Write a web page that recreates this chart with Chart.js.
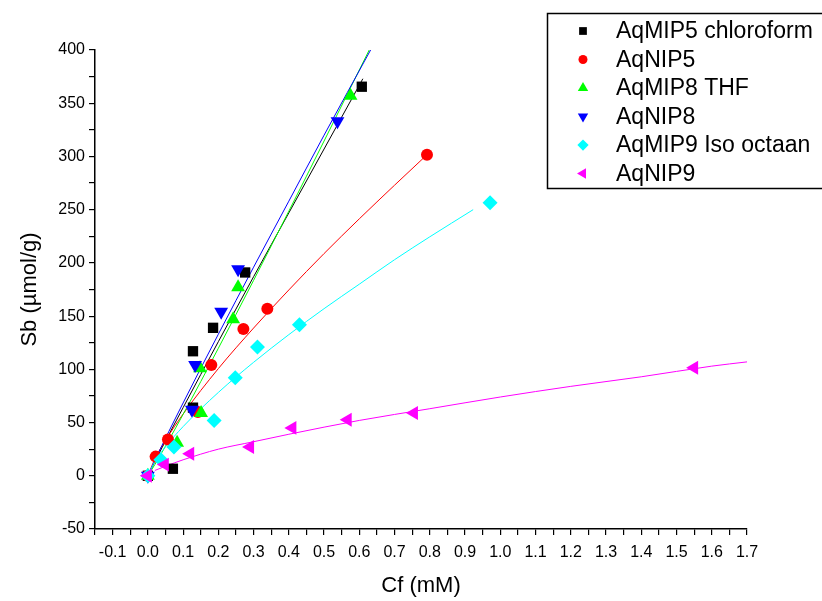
<!DOCTYPE html>
<html>
<head>
<meta charset="utf-8">
<script src="https://cdn.jsdelivr.net/npm/chart.js@4.4.0/dist/chart.umd.min.js"></script>
<style>
  html, body { margin: 0; padding: 0; background: #fff; }
</style>
</head>
<body>
<canvas id="iso" width="822" height="601"></canvas>
<script>
// series names, colours and marker shapes
const names = ['AqMIP5 chloroform', 'AqNIP5', 'AqMIP8 THF', 'AqNIP8', 'AqMIP9 Iso octaan', 'AqNIP9'];
const colors = ['#000000', '#ff0000', '#00ff00', '#0000ff', '#00ffff', '#ff00ff'];
const shapes = ['rect', 'circle', 'triangle', 'triangle', 'rectRot', 'triangle'];
const turns = [0, 0, 0, 180, 0, -90];
const sizes = [7.3, 6, 8, 8, 7.5, 8];

// measured points: Cf (mM) vs Sb (µmol/g)
const mip5X = [0, 0.071, 0.128, 0.128, 0.185, 0.276, 0.607];
const mip5Y = [0, 6.6, 64, 117, 139, 191, 365.5];
const nip5X = [0, 0.022, 0.057, 0.142, 0.18, 0.271, 0.339, 0.792];
const nip5Y = [0, 18, 34, 60, 104, 138, 157, 301.6];
const mip8X = [0, 0.083, 0.151, 0.148, 0.242, 0.256, 0.575];
const mip8Y = [0, 31, 59, 101, 147, 177, 357];
const nip8X = [0, 0.125, 0.134, 0.208, 0.256, 0.538];
const nip8Y = [0, 62, 104, 154, 194, 333];
const mip9X = [0, 0.037, 0.074, 0.188, 0.248, 0.311, 0.43, 0.971];
const mip9Y = [0, 15, 27, 52, 92, 121, 142, 256.6];
const nip9X = [0, 0.048, 0.12, 0.29, 0.41, 0.567, 0.755, 1.55];
const nip9Y = [0, 10.5, 20.7, 27, 45, 52.6, 59, 101.5];

// fitted isotherm curves
const mip5FitX = [0, 0.02, 0.1, 0.2, 0.3, 0.4, 0.5, 0.61];
const mip5FitY = [0, 13.4, 64, 126, 187, 247, 307, 373];
const nip5FitX = [0, 0.02, 0.05, 0.1, 0.2, 0.3, 0.4, 0.5, 0.6, 0.7, 0.792];
const nip5FitY = [0, 15.9, 33.2, 58, 100.7, 138.8, 174.6, 208.8, 241.4, 273, 301.6];
const mip8FitX = [0, 0.02, 0.1, 0.2, 0.3, 0.4, 0.5, 0.628];
const mip8FitY = [0, 10.6, 57.7, 119.8, 183.6, 248.6, 314.5, 400];
const nip8FitX = [0, 0.02, 0.1, 0.2, 0.3, 0.4, 0.5, 0.632];
const nip8FitY = [0, 14.6, 68.4, 133, 196, 258, 320, 400];
const mip9FitX = [0, 0.02, 0.05, 0.1, 0.2, 0.3, 0.4, 0.5, 0.6, 0.7, 0.8, 0.923];
const mip9FitY = [0, 13.6, 27.2, 46.2, 78.3, 106.6, 132.6, 157, 180, 203, 224.5, 250];
const nip9FitX = [0.02, 0.05, 0.1, 0.2, 0.3, 0.4, 0.6, 0.8, 1.0, 1.2, 1.4, 1.6, 1.7];
const nip9FitY = [5, 9, 15, 25, 32, 39, 52, 63, 74, 84, 93, 103, 107];

const pointsX = [mip5X, nip5X, mip8X, nip8X, mip9X, nip9X];
const pointsY = [mip5Y, nip5Y, mip8Y, nip8Y, mip9Y, nip9Y];
const fitsX = [mip5FitX, nip5FitX, mip8FitX, nip8FitX, mip9FitX, nip9FitX];
const fitsY = [mip5FitY, nip5FitY, mip8FitY, nip8FitY, mip9FitY, nip9FitY];

const pair = (xs, ys) => xs.map((x, i) => ({ x: x, y: ys[i] }));

const datasets = [];
names.forEach((name, i) => {
  datasets.push({
    label: name,
    data: pair(pointsX[i], pointsY[i]),
    showLine: false,
    pointStyle: shapes[i],
    rotation: turns[i],
    pointRadius: sizes[i],
    pointBorderWidth: 0,
    backgroundColor: colors[i],
    borderColor: colors[i],
    order: 5 - i
  });
  datasets.push({
    label: name + ' fit',
    data: pair(fitsX[i], fitsY[i]),
    showLine: true,
    pointRadius: 0,
    borderColor: colors[i],
    borderWidth: 1,
    cubicInterpolationMode: 'monotone',
    fill: false,
    order: 20 - i
  });
});

// boxed legend in the top right corner
const boxLegend = {
  id: 'boxLegend',
  afterDraw(chart) {
    const ctx = chart.ctx;
    ctx.save();
    ctx.strokeStyle = '#000';
    ctx.lineWidth = 1.5;
    ctx.strokeRect(547.5, 13.5, 300, 175);
    ctx.font = '23px "Liberation Sans", Arial, sans-serif';
    ctx.textBaseline = 'middle';
    names.forEach((name, i) => {
      const y = 31 + i * 28.5;
      ctx.fillStyle = colors[i];
      ctx.strokeStyle = colors[i];
      Chart.helpers.drawPoint(ctx, {
        pointStyle: shapes[i], rotation: turns[i], radius: sizes[i] * 0.75, borderWidth: 0
      }, 583, y);
      ctx.fillStyle = '#000';
      ctx.fillText(name, 616, y + 1);
    });
    ctx.restore();
  }
};

const tickFont = { family: '"Liberation Sans", Arial, sans-serif', size: 16 };
const titleFont = { family: '"Liberation Sans", Arial, sans-serif', size: 22 };

new Chart(document.getElementById('iso'), {
  type: 'scatter',
  data: { datasets: datasets },
  options: {
    responsive: false,
    animation: false,
    devicePixelRatio: 1,
    events: [],
    layout: { padding: { top: 50, right: 75, left: 0, bottom: 0 } },
    plugins: { legend: { display: false }, tooltip: { enabled: false } },
    scales: {
      x: {
        type: 'linear',
        min: -0.15,
        max: 1.7,
        border: { color: '#000', width: 1.5 },
        grid: { drawOnChartArea: false, drawTicks: true, tickLength: 6, color: '#000', lineWidth: 1.2 },
        ticks: {
          stepSize: 0.05,
          autoSkip: false,
          maxRotation: 0,
          color: '#000',
          font: tickFont,
          padding: 8,
          callback: v => (Math.abs(Math.round(v * 20)) % 2 === 0 ? v.toFixed(1) : '')
        },
        title: { display: true, text: 'Cf (mM)', color: '#000', font: titleFont, padding: { top: 0, bottom: 2 } },
        afterFit: s => { s.height = 72; }
      },
      y: {
        type: 'linear',
        min: -50,
        max: 400,
        border: { color: '#000', width: 1.5 },
        grid: { drawOnChartArea: false, drawTicks: true, tickLength: 6, color: '#000', lineWidth: 1.2 },
        ticks: {
          stepSize: 25,
          autoSkip: false,
          color: '#000',
          font: tickFont,
          padding: 4,
          callback: v => (Math.round(v) % 50 === 0 ? String(Math.round(v)) : '')
        },
        title: { display: true, text: 'Sb (µmol/g)', color: '#000', font: titleFont, padding: { top: 17, bottom: 0 } },
        afterFit: s => { s.width = 95; }
      }
    }
  },
  plugins: [boxLegend]
});
</script>
</body>
</html>
